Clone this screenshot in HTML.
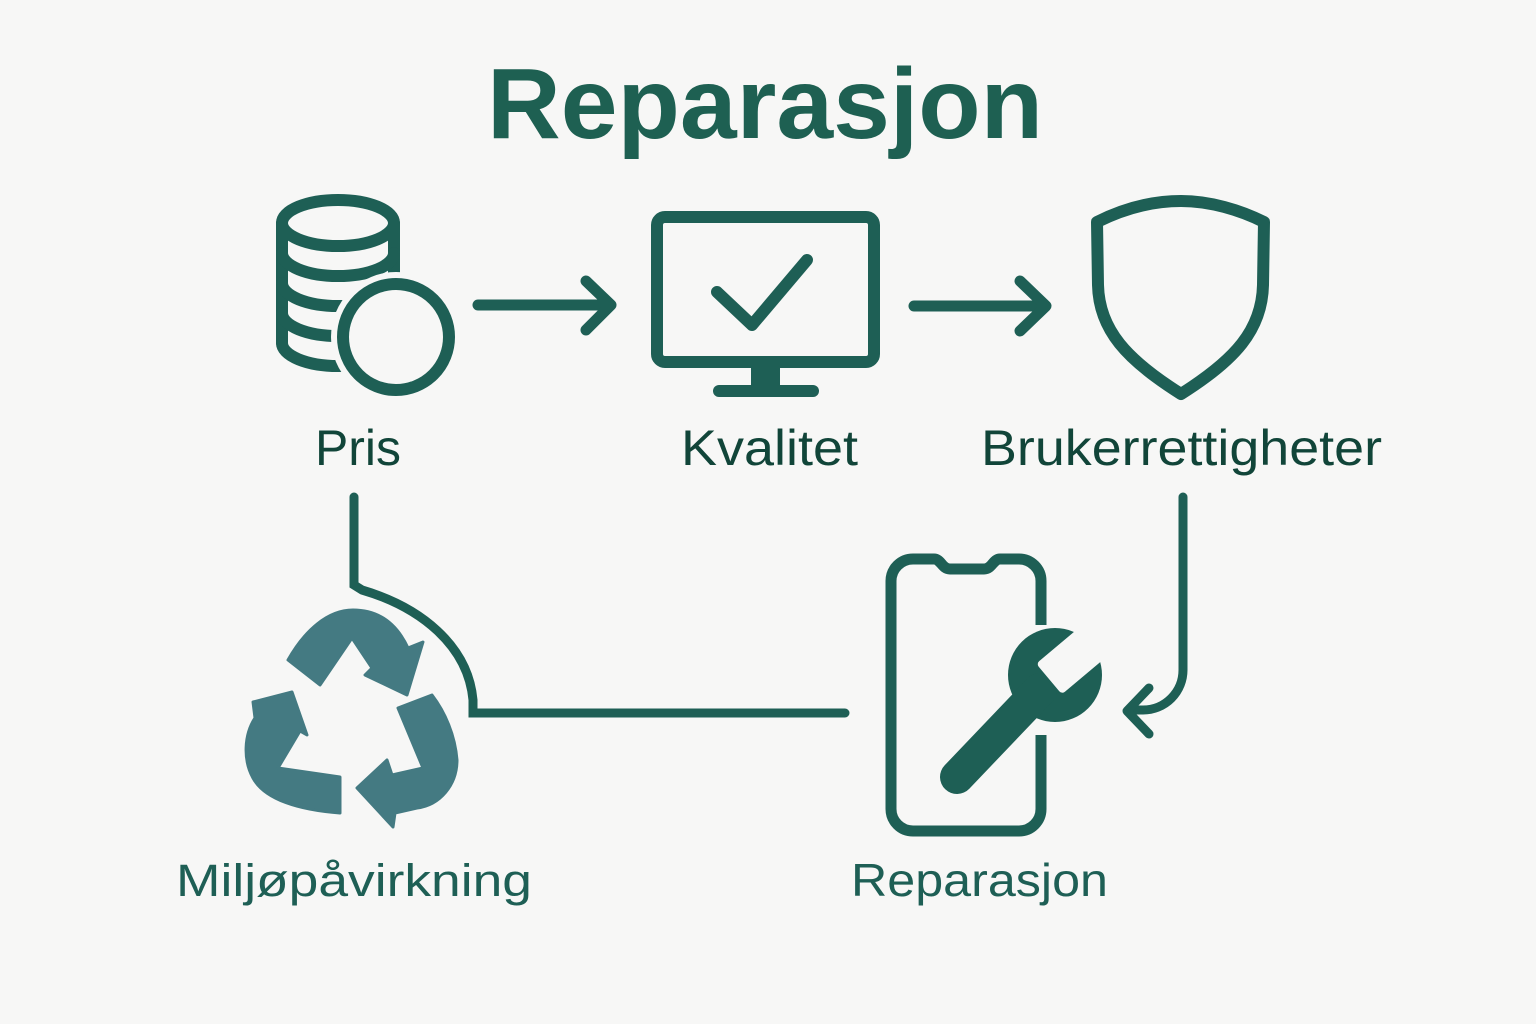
<!DOCTYPE html>
<html>
<head>
<meta charset="utf-8">
<style>
  html, body { margin: 0; padding: 0; background: #f7f7f6; }
  svg { display: block; }
  text { font-family: "Liberation Sans", "DejaVu Sans", sans-serif; }
</style>
</head>
<body>
<svg width="1536" height="1024" viewBox="0 0 1536 1024" xmlns="http://www.w3.org/2000/svg">
  <defs>
    <mask id="wm" maskUnits="userSpaceOnUse" x="0" y="0" width="1536" height="1024">
      <rect x="0" y="0" width="1536" height="1024" fill="#fff"/>
      <rect x="0" y="-20" width="90" height="40" rx="4" fill="#000" transform="translate(1049 679) rotate(-40)"/>
    </mask>
  </defs>
  <rect x="0" y="0" width="1536" height="1024" fill="#f7f7f6"/>

  <!-- Title -->
  <text x="487" y="138" font-size="100" font-weight="700" fill="#1e6052" textLength="556" lengthAdjust="spacingAndGlyphs">Reparasjon</text>

  <g fill="none" stroke="#1e5f55" stroke-linecap="round" stroke-linejoin="round">
    <!-- Database / coins icon -->
    <g stroke-width="12">
      <ellipse cx="338" cy="223" rx="56" ry="23"/>
      <path d="M282 223 V343"/>
      <path d="M394 223 V343"/>
      <path d="M282 253 A56 23 0 0 0 394 253"/>
      <path d="M282 283 A56 23 0 0 0 394 283"/>
      <path d="M282 313 A56 23 0 0 0 394 313"/>
      <path d="M282 343 A56 23 0 0 0 394 343"/>
    </g>
    <circle cx="396" cy="337" r="65" fill="#f7f7f6" stroke="none"/>
    <circle cx="396" cy="337" r="53" fill="#f7f7f6" stroke-width="12"/>

    <!-- Arrow 1 -->
    <path d="M478 305 H610" stroke-width="11"/>
    <path d="M586 281 L611 305 L586 330" stroke-width="11"/>

    <!-- Monitor -->
    <rect x="657" y="217" width="217" height="145" rx="8" stroke-width="12"/>
    <polyline points="717,292 752,325 807,260" stroke-width="12"/>
    <rect x="751" y="366" width="29" height="22" fill="#1e5f55" stroke="none"/>
    <path d="M719 391 H813" stroke-width="12"/>

    <!-- Arrow 2 -->
    <path d="M914 306 H1045" stroke-width="11"/>
    <path d="M1020 281 L1046 306 L1020 331" stroke-width="11"/>

    <!-- Shield -->
    <path d="M1181 201 C1210 201 1240 210 1264 222 L1263 285 C1262 330 1235 360 1181 394 C1127 360 1099 330 1098 285 L1097 222 C1121 210 1150 201 1181 201 Z" stroke-width="12"/>

    <!-- Connector Pris -> Reparasjon -->
    <path d="M354 497 V585 L362 590 C420 607 468 645 473 700 V713 H845" stroke-width="9" stroke-linejoin="miter"/>

    <!-- Connector Brukerrettigheter -> Reparasjon -->
    <path d="M1183 497 V670 A40 40 0 0 1 1143 710 H1129" stroke-width="9"/>
    <path d="M1149 688 L1127 711 L1149 734" stroke-width="9"/>

    <!-- Phone -->
    <path d="M1041 625 V581 A22 22 0 0 0 1019 559 H1000 C993 559 992 569 984 569 H950 C942 569 941 559 934 559 H913 A22 22 0 0 0 891 581 V809 A22 22 0 0 0 913 831 H1019 A22 22 0 0 0 1041 809 V735" stroke-width="11" stroke-linecap="butt"/>
  </g>

  <!-- Wrench -->
  <g mask="url(#wm)">
    <circle cx="1055" cy="675" r="47" fill="#1e5f55"/>
    <path d="M957 777 L1040 690" stroke="#1e5f55" stroke-width="34" stroke-linecap="round"/>
  </g>

  <!-- Recycle icon -->
  <g fill="#447a82" stroke="#447a82" stroke-width="3" stroke-linejoin="round">
    <path d="M288 660 L320 685 L352 638 L372 668 L365 675 L407 695 L423 642 L408 648 C395 620 375 610 353 610 C328 610 305 630 288 660 Z"/>
    <path d="M340 777 L340 813 C300 810 265 800 253 778 C243 760 244 735 255 718 L253 702 L292 692 L307 735 L300 731 L278 768 Z"/>
    <path d="M398 708 L432 695 C445 712 455 735 457 760 C457 785 440 805 417 808 L395 813 L393 827 L357 788 L387 760 L392 775 L423 768 Z"/>
  </g>

  <!-- Labels -->
  <text x="315" y="465" font-size="50" fill="#114539" textLength="86" lengthAdjust="spacingAndGlyphs">Pris</text>
  <text x="681" y="465" font-size="50" fill="#114539" textLength="177" lengthAdjust="spacingAndGlyphs">Kvalitet</text>
  <text x="981" y="465" font-size="50" fill="#114539" textLength="401" lengthAdjust="spacingAndGlyphs">Brukerrettigheter</text>
  <text x="176" y="896" font-size="45" fill="#1e5f55" textLength="356" lengthAdjust="spacingAndGlyphs">Miljøpåvirkning</text>
  <text x="851" y="896" font-size="46" fill="#1e5f55" textLength="257" lengthAdjust="spacingAndGlyphs">Reparasjon</text>
</svg>
</body>
</html>
